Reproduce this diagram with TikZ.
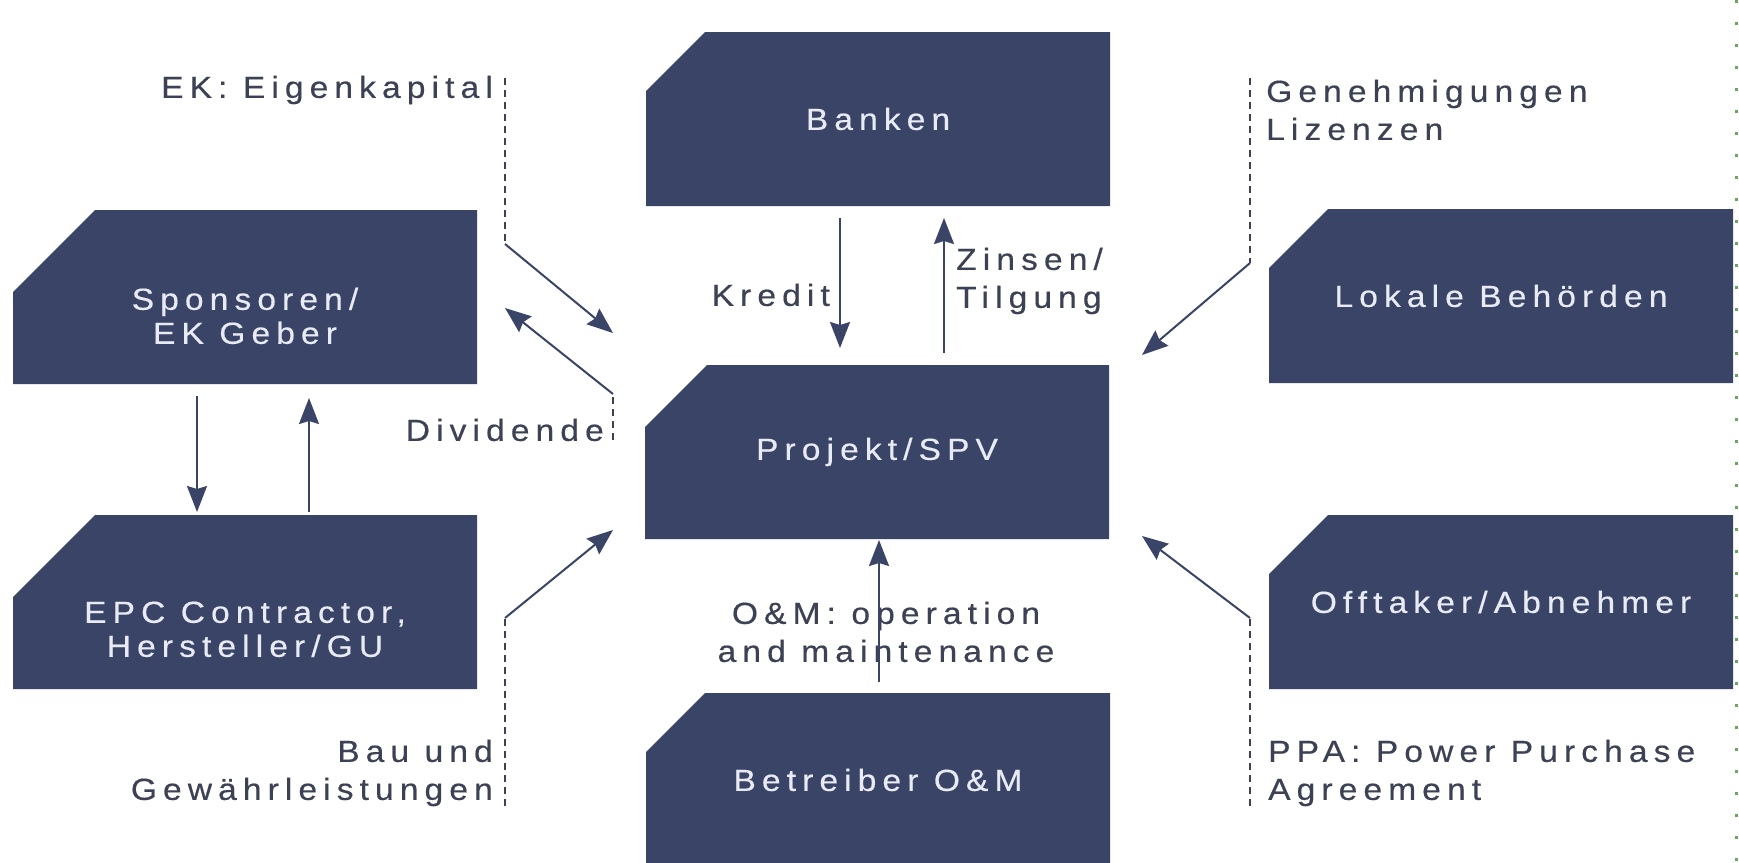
\documentclass[tikz,border=0pt]{standalone}
\usepackage{fontspec}
\setmainfont{Liberation Sans}[LetterSpace=20, FakeStretch=1.1, FakeBold=0.4]
\usetikzlibrary{shapes.misc,arrows.meta}
\definecolor{navy}{RGB}{58,68,102}
\definecolor{boxtxt}{RGB}{232,235,243}
\definecolor{lbltxt}{RGB}{60,66,84}
\definecolor{dotgreen}{RGB}{110,165,90}
\tikzset{
  box/.style={chamfered rectangle, chamfered rectangle corners=north west,
    chamfered rectangle xsep=55pt, chamfered rectangle ysep=48pt,
    fill=navy, draw=none, minimum width=464pt, minimum height=174pt,
    inner sep=0pt, text=boxtxt, font=\fontsize{30.5}{34}\selectfont, align=center},
  lbl/.style={text=lbltxt, font=\fontsize{30.5}{38}\selectfont, inner sep=0pt},
  flow/.style={draw=navy, line width=2pt, -{Stealth[length=26pt,width=20pt,inset=3pt]}},
  lead/.style={draw=lbltxt, line width=2pt, dash pattern=on 7pt off 5pt},
  edge/.style={draw=dotgreen, line width=3pt, dash pattern=on 3pt off 19pt},
}
\newcommand{\lowered}[2]{\raisebox{#1}[\height][\depth]{\begin{tabular}{@{}c@{}}#2\end{tabular}}}
\begin{document}
\begin{tikzpicture}[x=1pt,y=-1pt]
\useasboundingbox (0,0) rectangle (1739,862);
\clip (0,0) rectangle (1739,862);
\fill[white] (0,0) rectangle (1739,862);
% right-hand dotted edge
\coordinate (edgeTop) at (1736,0);
\coordinate (edgeBot) at (1736,862);
\draw[edge] (edgeTop) -- (edgeBot);
% boxes
\node[box] (banken) at (878,119) {Banken};
\node[box] (spons) at (245,297) {\lowered{-23pt}{Sponsoren/\\EK Geber}};
\node[box] (epc) at (245,602) {\lowered{-31pt}{EPC Contractor,\\Hersteller/GU}};
\node[box] (proj) at (877,452) {Projekt/SPV};
\node[box] (betr) at (878,780) {Betreiber O\&M};
\node[box] (lokal) at (1501,296) {Lokale Behörden};
\node[box] (offt) at (1501,602) {Offtaker/Abnehmer};
% outside labels
\node[lbl, anchor=east, align=right] (ekT) at (493,90) {EK: Eigenkapital};
\node[lbl, anchor=east, align=right] (dvT) at (604,430) {Dividende};
\node[lbl, anchor=east, align=right] (krT) at (830,295) {Kredit};
\node[lbl, anchor=west, align=left] (ziT) at (956,281) {Zinsen/\\Tilgung};
\node[lbl, anchor=west, align=left] (geT) at (1266,110) {Genehmigungen\\Lizenzen};
\node[lbl, anchor=west, align=left] (ppT) at (1268,773) {PPA: Power Purchase\\Agreement};
\node[lbl, anchor=east, align=right] (bauT) at (493,773) {Bau und\\Gewährleistungen};
\node[lbl, align=center] (omT) at (886,632) {O\&M: operation\\and maintenance};
% coordinates of connector ends
\coordinate (ekA) at (505,78);  \coordinate (ekB) at (505,244); \coordinate (ekC) at (613,333);
\coordinate (dvA) at (613,440); \coordinate (dvB) at (613,394); \coordinate (dvC) at (505,308);
\coordinate (krA) at (840,218); \coordinate (krB) at (840,348);
\coordinate (ziA) at (944,353); \coordinate (ziB) at (944,218);
\coordinate (geA) at (1250,78); \coordinate (geB) at (1250,263); \coordinate (geC) at (1142,355);
\coordinate (ppA) at (1250,806); \coordinate (ppB) at (1250,618); \coordinate (ppC) at (1142,536);
\coordinate (buA) at (505,806); \coordinate (buB) at (505,618); \coordinate (buC) at (613,530);
\coordinate (omA) at (879,682); \coordinate (omB) at (879,540);
\coordinate (spA) at (197,396); \coordinate (spB) at (197,512);
\coordinate (epA) at (309,512); \coordinate (epB) at (309,398);
% connectors
\draw[lead] (ekA) -- (ekB); \draw[flow] (ekB) -- (ekC);
\draw[lead] (dvA) -- (dvB); \draw[flow] (dvB) -- (dvC);
\draw[flow] (krA) -- (krB);
\draw[flow] (ziA) -- (ziB);
\draw[lead] (geA) -- (geB); \draw[flow] (geB) -- (geC);
\draw[lead] (ppA) -- (ppB); \draw[flow] (ppB) -- (ppC);
\draw[lead] (buA) -- (buB); \draw[flow] (buB) -- (buC);
\draw[flow] (omA) -- (omB);
\draw[flow] (spA) -- (spB);
\draw[flow] (epA) -- (epB);
\end{tikzpicture}
\end{document}
